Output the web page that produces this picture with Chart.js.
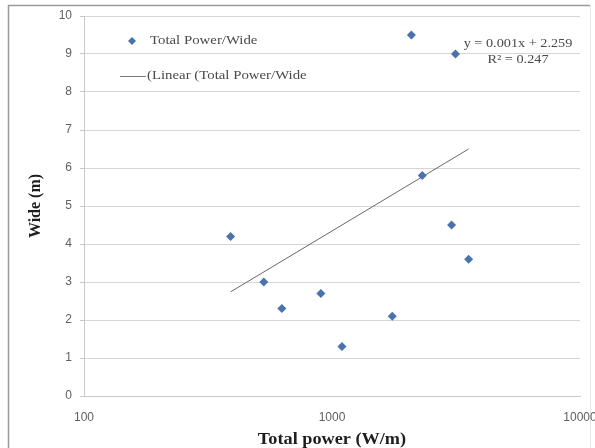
<!DOCTYPE html>
<html>
<head>
<meta charset="utf-8">
<script src="https://cdn.jsdelivr.net/npm/chart.js@4/dist/chart.umd.min.js"></script>
<style>
html,body{margin:0;padding:0;background:#fff;}
#wrap{width:595px;height:448px;position:relative;}
</style>
</head>
<body>
<div id="wrap"><canvas id="c" width="595" height="448"></canvas></div>
<script>
// Data
const powerValues = [390, 531, 628, 902, 1097, 1750, 2090, 2312, 3035, 3147, 3555];
const wideValues  = [4.2, 3.0, 2.3, 2.7, 1.3, 2.1, 9.5, 5.8, 4.5, 9.0, 3.6];
const trendPower  = [390, 3555];
const trendWide   = [2.74, 6.5];
const xTickLabels = [100, 1000, 10000];
const yTickLabels = [0,1,2,3,4,5,6,7,8,9,10];
const seriesName  = 'Total Power/Wide';
const trendName   = '(Linear (Total Power/Wide';
const equationLines = ['y = 0.001x + 2.259', 'R\u00B2 = 0.247'];
const xTitle = 'Total power (W/m)';
const yTitle = 'Wide (m)';

const pointColor = '#4a72ad';
const SX = 1.14; // horizontal stretch of the reference text

function stretchedText(ctx, text, x, y, align) {
  ctx.save();
  ctx.translate(x, y);
  ctx.scale(SX, 1);
  ctx.textAlign = align;
  ctx.fillText(text, 0, 0);
  ctx.restore();
}

const decor = {
  id: 'decor',
  beforeDraw(chart) {
    const ctx = chart.ctx;
    ctx.save();
    ctx.fillStyle = '#fff';
    ctx.fillRect(0, 0, chart.width, chart.height);
    ctx.strokeStyle = '#9a9a9a';
    ctx.lineWidth = 1.5;
    ctx.beginPath();
    ctx.moveTo(8.5, 448); ctx.lineTo(8.5, 5.5); ctx.lineTo(590, 5.5);
    ctx.stroke();
    ctx.strokeStyle = '#e6e6e6';
    ctx.lineWidth = 1;
    ctx.beginPath();
    ctx.moveTo(590.5, 5.5); ctx.lineTo(590.5, 448);
    ctx.stroke();
    ctx.restore();
  },
  afterDraw(chart) {
    const ctx = chart.ctx;
    const area = chart.chartArea;
    ctx.save();
    ctx.textBaseline = 'middle';
    // legend item 1
    ctx.fillStyle = pointColor;
    ctx.beginPath();
    ctx.moveTo(132, 37); ctx.lineTo(136, 41); ctx.lineTo(132, 45); ctx.lineTo(128, 41); ctx.closePath();
    ctx.fill();
    ctx.font = '13px "Liberation Serif", serif';
    ctx.fillStyle = '#4a4a4a';
    stretchedText(ctx, seriesName, 150, 41, 'left');
    // legend item 2
    ctx.strokeStyle = '#777';
    ctx.lineWidth = 1;
    ctx.beginPath();
    ctx.moveTo(120, 76.5); ctx.lineTo(146, 76.5);
    ctx.stroke();
    stretchedText(ctx, trendName, 147, 76, 'left');
    // equation
    ctx.font = '12.5px "Liberation Serif", serif';
    stretchedText(ctx, equationLines[0], 518, 44, 'center');
    stretchedText(ctx, equationLines[1], 518, 60, 'center');
    // axis titles
    ctx.fillStyle = '#1e1e1e';
    ctx.font = 'bold 16px "Liberation Serif", serif';
    stretchedText(ctx, xTitle, (area.left + area.right) / 2, 440, 'center');
    ctx.save();
    ctx.translate(36, (area.top + area.bottom) / 2);
    ctx.rotate(-Math.PI / 2);
    ctx.textAlign = 'center';
    ctx.fillText(yTitle, 0, 0);
    ctx.restore();
    ctx.restore();
  }
};

new Chart(document.getElementById('c'), {
  type: 'scatter',
  data: {
    datasets: [
      {
        label: seriesName,
        data: powerValues.map((x, i) => ({x, y: wideValues[i]})),
        pointStyle: 'rectRot',
        pointRadius: 4.5,
        backgroundColor: pointColor,
        borderColor: pointColor,
        borderWidth: 0,
        order: 1
      },
      {
        label: trendName,
        type: 'line',
        data: trendPower.map((x, i) => ({x, y: trendWide[i]})),
        borderColor: '#6a6a6a',
        borderWidth: 1,
        pointRadius: 0,
        fill: false,
        order: 2
      }
    ]
  },
  plugins: [decor],
  options: {
    responsive: false,
    animation: false,
    devicePixelRatio: 1,
    layout: { padding: { top: 16, right: 15, left: 0, bottom: 0 } },
    plugins: { legend: { display: false }, tooltip: { enabled: false } },
    scales: {
      x: {
        type: 'logarithmic',
        min: 100, max: 10000,
        afterBuildTicks(scale) { scale.ticks = xTickLabels.map(v => ({value: v})); },
        afterFit(scale) { scale.height = 52; scale.paddingRight = 0; scale.paddingLeft = 0; },
        ticks: {
          callback: v => String(v),
          color: '#606060',
          font: { family: '"Liberation Sans", Arial, sans-serif', size: 12 },
          padding: 14,
          maxRotation: 0,
          autoSkip: false
        },
        grid: { display: false, drawTicks: false },
        border: { display: true, color: '#c8c8c8' }
      },
      y: {
        min: 0, max: 10,
        afterBuildTicks(scale) { scale.ticks = yTickLabels.map(v => ({value: v})); },
        afterFit(scale) { scale.width = 84; scale.paddingTop = 0; scale.paddingBottom = 0; },
        ticks: {
          color: '#606060',
          font: { family: '"Liberation Sans", Arial, sans-serif', size: 12 },
          padding: 8
        },
        grid: { color: '#d6d6d6', tickLength: 4, tickColor: '#c8c8c8' },
        border: { display: true, color: '#c8c8c8' }
      }
    }
  }
});
</script>
</body>
</html>
